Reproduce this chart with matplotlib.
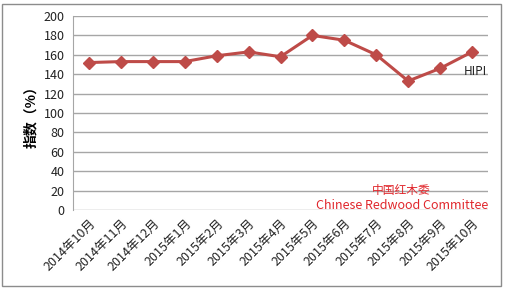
import matplotlib
matplotlib.use("Agg")
import matplotlib.pyplot as plt
from matplotlib.patches import Rectangle

plt.rcParams['font.family'] = ['Noto Sans CJK SC', 'DejaVu Sans']

categories = ["2014年10月", "2014年11月", "2014年12月", "2015年1月", "2015年2月",
              "2015年3月", "2015年4月", "2015年5月", "2015年6月", "2015年7月",
              "2015年8月", "2015年9月", "2015年10月"]
hipi = [152, 153, 153, 153, 159, 163, 158, 180, 175, 160, 133, 146, 163]
yticks = [0, 20, 40, 60, 80, 100, 120, 140, 160, 180, 200]

W, H = 506, 289
fig = plt.figure(figsize=(W / 100, H / 100), dpi=100)
ax = fig.add_axes([73 / W, 1 - 210 / H, (488 - 73) / W, (210 - 16) / H])

x = list(range(len(categories)))
ax.plot(x, hipi, color='#BE4B48', lw=2.2, marker='D', ms=6, mec='#BE4B48', mfc='#BE4B48', zorder=3)

ax.set_xlim(-0.5, len(categories) - 0.5)
ax.set_ylim(0, 200)
ax.set_yticks(yticks)
ax.yaxis.grid(True, color='#A6A6A6', lw=1)
ax.set_axisbelow(True)
for s in ['top', 'right', 'bottom']:
    ax.spines[s].set_visible(False)
ax.spines['left'].set_color('#A6A6A6')
ax.tick_params(axis='both', length=0, labelsize=9, colors='#222222')
ax.tick_params(axis='y', pad=6)
ax.set_xticks(x)
ax.set_xticklabels(categories, rotation=45, ha='right', rotation_mode='anchor')
ax.tick_params(axis='x', pad=5)

ax.set_ylabel("指数（%）", fontsize=10, fontweight='bold', labelpad=4)

ax.text(len(categories) - 0.53, 143, "HIPI", ha='right', va='center', fontsize=8.5, color='#222222')
ax.text(0.79, 0.10, "中国红木委", transform=ax.transAxes, ha='center', va='center', fontsize=8.5, color='#E0262B')
ax.text(1.0, 0.025, "Chinese Redwood Committee", transform=ax.transAxes, ha='right', va='center', fontsize=9, color='#E0262B')

fig.patches.append(Rectangle((2.5 / W, 3.5 / H), (501.5 - 2.5) / W, (285.5 - 3.5) / H,
                             transform=fig.transFigure, fill=False, ec='#8C8C8C', lw=1))

fig.savefig("out.png", dpi=100)
